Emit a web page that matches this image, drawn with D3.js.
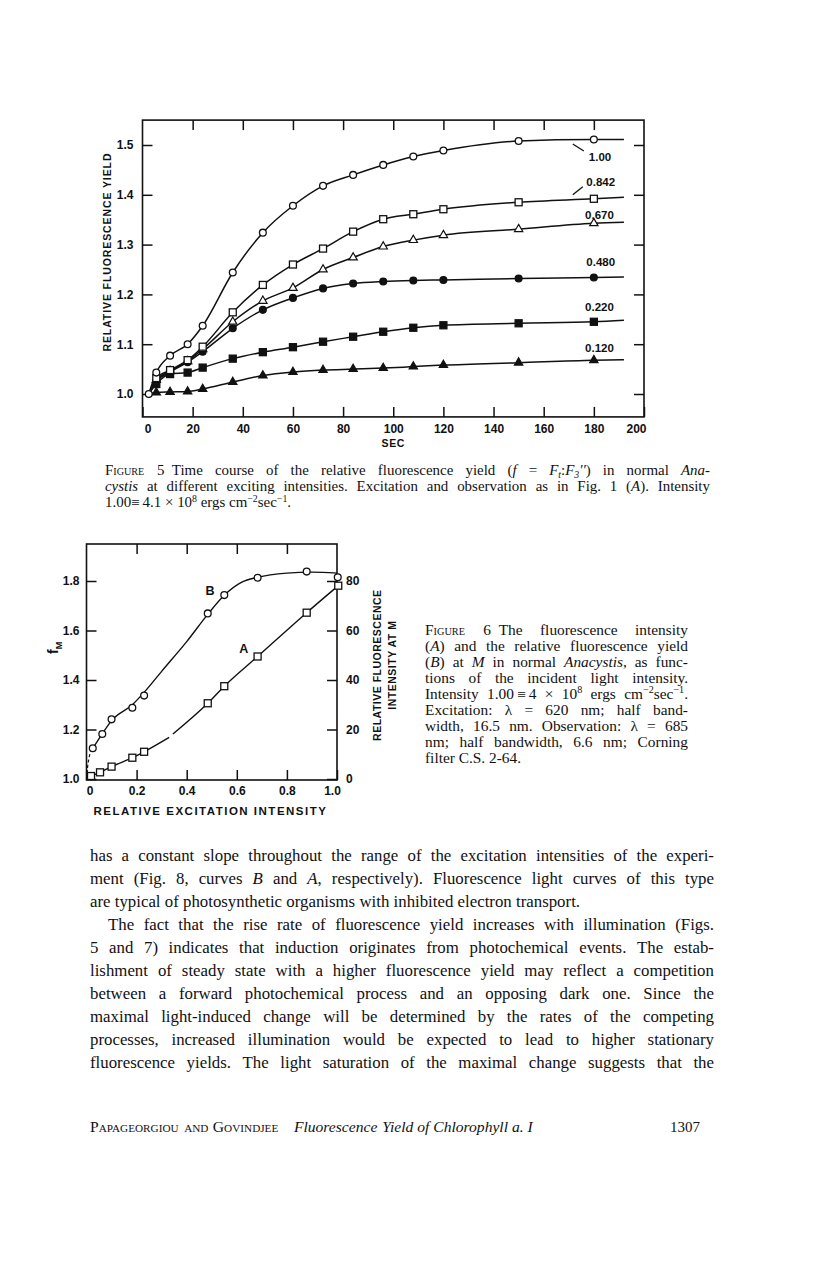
<!DOCTYPE html>
<html>
<head>
<meta charset="utf-8">
<script src="https://cdn.jsdelivr.net/npm/d3@7"></script>
<style>
  body { margin: 0; background: #fff; }
  svg { display: block; }
</style>
</head>
<body>
<script>
// ---- Figure 5 : relative fluorescence yield vs time, six intensities ----
const secT = [2.5, 5.5, 11, 18, 24, 36, 48, 60, 72, 84, 96, 108, 120, 150, 180];
const yield100 = [1.0, 1.043, 1.077, 1.100, 1.137, 1.244, 1.324, 1.378, 1.418, 1.440, 1.460, 1.477, 1.489, 1.508, 1.511];
const yield842 = [1.0, 1.032, 1.048, 1.068, 1.095, 1.164, 1.219, 1.260, 1.292, 1.326, 1.351, 1.361, 1.371, 1.385, 1.392];
const yield670 = [1.0, 1.028, 1.046, 1.066, 1.090, 1.145, 1.187, 1.213, 1.250, 1.274, 1.296, 1.309, 1.319, 1.331, 1.343];
const yield480 = [1.0, 1.025, 1.044, 1.064, 1.085, 1.132, 1.169, 1.193, 1.212, 1.222, 1.226, 1.228, 1.229, 1.232, 1.234];
const yield220 = [1.0, 1.020, 1.040, 1.043, 1.053, 1.071, 1.084, 1.094, 1.105, 1.115, 1.125, 1.133, 1.138, 1.142, 1.145];
const yield120 = [1.0, 1.003, 1.004, 1.005, 1.010, 1.024, 1.037, 1.044, 1.048, 1.050, 1.052, 1.055, 1.058, 1.063, 1.068];
const lineEndT = 192;
const lineEndYield = [1.511, 1.395, 1.345, 1.235, 1.148, 1.069];
const intensityLabels = ["1.00", "0.842", "0.670", "0.480", "0.220", "0.120"];
const markerShapes = ["circleOpen", "squareOpen", "triangleOpen", "circle", "square", "triangle"];
const secTicks = [0, 20, 40, 60, 80, 100, 120, 140, 160, 180, 200];
const yieldTicks = [1.0, 1.1, 1.2, 1.3, 1.4, 1.5];

// ---- Figure 6 : A = fluorescence intensity, B = yield, vs excitation ----
const bX = [0.025, 0.063, 0.10, 0.183, 0.23, 0.484, 0.55, 0.683, 0.879, 1.003];
const bYield = [1.124, 1.182, 1.241, 1.288, 1.337, 1.669, 1.743, 1.813, 1.838, 1.815];
const bCurveX = [0.02, 0.06, 0.10, 0.183, 0.23, 0.3, 0.4, 0.484, 0.55, 0.62, 0.683, 0.8, 0.9, 1.0];
const bCurveY = [1.115, 1.178, 1.236, 1.30, 1.35, 1.435, 1.555, 1.665, 1.742, 1.795, 1.815, 1.832, 1.836, 1.832];
const bDashX = [0, 0.004, 0.01, 0.02];
const bDashY = [1.0, 1.045, 1.085, 1.115];
const aX = [0.018, 0.054, 0.10, 0.183, 0.23, 0.484, 0.55, 0.683, 0.879, 1.005];
const aIntensity = [1.2, 2.7, 5.0, 8.6, 11.0, 30.6, 37.5, 49.5, 67.2, 78.1];
const aCurve1X = [0.018, 0.054, 0.10, 0.183, 0.23, 0.33];
const aCurve1Y = [1.2, 2.7, 5.0, 8.6, 11.0, 16.8];
const aCurve2X = [0.345, 0.484, 0.55, 0.683, 0.879, 1.005];
const aCurve2Y = [18.2, 30.6, 37.5, 49.5, 67.2, 78.1];
const excTicks = [0, 0.2, 0.4, 0.6, 0.8, 1.0];
const fmTicks = [1.0, 1.2, 1.4, 1.6, 1.8];
const intTicks = [0, 20, 40, 60, 80];

const W = 816, H = 1268;
const SANS = "'Liberation Sans', Arial, sans-serif";
const SERIF = "'Liberation Serif', 'Times New Roman', serif";
const INK = "#111";

const svg = d3.select("body").append("svg").attr("width", W).attr("height", H);
svg.append("rect").attr("width", W).attr("height", H).attr("fill", "#fff");

function styleAxis(g) {
  g.select(".domain").remove();
  g.selectAll(".tick line").attr("stroke", INK).attr("stroke-width", 1.5);
  g.selectAll(".tick text").attr("fill", INK).attr("font-family", SANS)
    .attr("font-weight", "bold").attr("font-size", 12);
}

function marker(g, shape, cx, cy) {
  const filled = !shape.endsWith("Open");
  const fill = filled ? INK : "#fff";
  if (shape.startsWith("circle")) {
    g.append("circle").attr("cx", cx).attr("cy", cy).attr("r", 3.4)
      .attr("fill", fill).attr("stroke", INK).attr("stroke-width", 1.3);
  } else if (shape.startsWith("square")) {
    g.append("rect").attr("x", cx - 3.5).attr("y", cy - 3.5).attr("width", 7).attr("height", 7)
      .attr("fill", fill).attr("stroke", INK).attr("stroke-width", 1.3);
  } else {
    g.append("path").attr("d", d3.symbol(d3.symbolTriangle, 30)())
      .attr("transform", `translate(${cx},${cy})`)
      .attr("fill", fill).attr("stroke", INK).attr("stroke-width", 1.2);
  }
}

// ================= FIGURE 5 =================
const x5 = d3.scaleLinear().domain([0, 200]).range([142.5, 644]);
const y5 = d3.scaleLinear().domain([1.0, 1.5]).range([394, 145]);
const y5lo = 0.954, y5hi = 1.55;
const g5 = svg.append("g");

g5.append("rect").attr("x", x5(0)).attr("y", y5(y5hi))
  .attr("width", x5(200) - x5(0)).attr("height", y5(y5lo) - y5(y5hi))
  .attr("fill", "none").attr("stroke", INK).attr("stroke-width", 1.6);

g5.append("g").attr("transform", `translate(0,${y5(y5lo)})`)
  .call(d3.axisBottom(x5).tickValues(secTicks).tickSize(-10).tickPadding(8).tickFormat(d3.format("d")))
  .call(styleAxis)
  .call(g => {
    g.selectAll(".tick text").filter(d => d === 0).attr("dx", 5);
    g.selectAll(".tick text").filter(d => d === 200).attr("dx", -8);
  });
g5.append("g").attr("transform", `translate(0,${y5(y5hi)})`)
  .call(d3.axisTop(x5).tickValues(secTicks.slice(1, -1)).tickSize(-10).tickFormat(""))
  .call(styleAxis);
g5.append("g").attr("transform", `translate(${x5(0)},0)`)
  .call(d3.axisLeft(y5).tickValues(yieldTicks).tickSize(-10).tickPadding(9).tickFormat(d3.format(".1f")))
  .call(styleAxis);
g5.append("g").attr("transform", `translate(${x5(200)},0)`)
  .call(d3.axisRight(y5).tickValues(yieldTicks).tickSize(-10).tickFormat(""))
  .call(styleAxis);

g5.append("text").attr("x", x5(100)).attr("y", 447).attr("text-anchor", "middle")
  .attr("font-family", SANS).attr("font-weight", "bold").attr("font-size", 10.5)
  .attr("letter-spacing", 0.6).attr("fill", INK).text("SEC");
g5.append("text").attr("transform", `translate(111,${y5(1.285)}) rotate(-90)`)
  .attr("text-anchor", "middle").attr("font-family", SANS).attr("font-weight", "bold")
  .attr("font-size", 10.5).attr("letter-spacing", 0.9).attr("fill", INK)
  .text("RELATIVE  FLUORESCENCE  YIELD");

const yieldSeries = [yield100, yield842, yield670, yield480, yield220, yield120];
const line5 = d3.line().x(d => x5(d[0])).y(d => y5(d[1])).curve(d3.curveMonotoneX);
yieldSeries.forEach((vals, si) => {
  const pts = secT.map((t, i) => [t, vals[i]]).concat([[lineEndT, lineEndYield[si]]]);
  g5.append("path").attr("d", line5(pts)).attr("fill", "none")
    .attr("stroke", INK).attr("stroke-width", 1.5);
});
// markers drawn from lowest to highest curve so open symbols sit on top
for (let si = yieldSeries.length - 1; si >= 0; si--) {
  secT.forEach((t, i) => {
    if (i === 0 && si !== 0) return;
    marker(g5, markerShapes[si], x5(t), y5(yieldSeries[si][i]));
  });
}

// curve labels (annotation positions in data units)
const labelAt = [[178, 1.476], [177, 1.426], [176.5, 1.36], [177, 1.265], [176.5, 1.175], [176.5, 1.092]];
intensityLabels.forEach((lab, i) => {
  g5.append("text").attr("x", x5(labelAt[i][0])).attr("y", y5(labelAt[i][1]) + 4)
    .attr("font-family", SANS).attr("font-weight", "bold").attr("font-size", 11.5)
    .attr("fill", INK).text(lab);
});
const leaders = [[[171.6, 1.502], [176, 1.488]], [[171.6, 1.40], [175.6, 1.416]]];
leaders.forEach(l => {
  g5.append("line").attr("x1", x5(l[0][0])).attr("y1", y5(l[0][1]))
    .attr("x2", x5(l[1][0])).attr("y2", y5(l[1][1])).attr("stroke", INK).attr("stroke-width", 1.3);
});

// ================= FIGURE 6 =================
const x6 = d3.scaleLinear().domain([0, 1]).range([86.5, 337]);
const yL6 = d3.scaleLinear().domain([1.0, 1.8]).range([779, 581]);
const yR6 = d3.scaleLinear().domain([0, 80]).range([779, 581]);
const top6 = 544, bot6 = 780;
const g6 = svg.append("g");

g6.append("rect").attr("x", x6(0)).attr("y", top6).attr("width", x6(1) - x6(0)).attr("height", bot6 - top6)
  .attr("fill", "none").attr("stroke", INK).attr("stroke-width", 1.6);

g6.append("g").attr("transform", `translate(0,${bot6})`)
  .call(d3.axisBottom(x6).tickValues(excTicks).tickSize(-10).tickPadding(6)
    .tickFormat(d => d === 0 ? "0" : d3.format(".1f")(d)))
  .call(styleAxis)
  .call(g => {
    g.selectAll(".tick text").filter(d => d === 0).attr("dx", 3);
    g.selectAll(".tick text").filter(d => d === 1).attr("dx", -5);
  });
g6.append("g").attr("transform", `translate(0,${top6})`)
  .call(d3.axisTop(x6).tickValues(excTicks.slice(1, -1)).tickSize(-10).tickFormat(""))
  .call(styleAxis);
g6.append("g").attr("transform", `translate(${x6(0)},0)`)
  .call(d3.axisLeft(yL6).tickValues(fmTicks).tickSize(-10).tickPadding(7).tickFormat(d3.format(".1f")))
  .call(styleAxis);
g6.append("g").attr("transform", `translate(${x6(1)},0)`)
  .call(d3.axisRight(yR6).tickValues(intTicks).tickSize(-10).tickPadding(9).tickFormat(d3.format("d")))
  .call(styleAxis);

g6.append("text").attr("x", x6(0.495)).attr("y", 815).attr("text-anchor", "middle")
  .attr("font-family", SANS).attr("font-weight", "bold").attr("font-size", 11.5)
  .attr("letter-spacing", 1.5).attr("fill", INK).text("RELATIVE  EXCITATION  INTENSITY");

const fm = g6.append("text").attr("transform", `translate(58,${yL6(1.53)}) rotate(-90)`)
  .attr("text-anchor", "middle").attr("font-family", SANS).attr("font-weight", "bold")
  .attr("font-size", 14).attr("fill", INK);
fm.append("tspan").text("f");
fm.append("tspan").attr("font-size", 9).attr("dy", 4).text("M");

[["RELATIVE FLUORESCENCE", 381], ["INTENSITY AT M", 396]].forEach(r => {
  g6.append("text").attr("transform", `translate(${r[1]},${yL6(1.46)}) rotate(-90)`)
    .attr("text-anchor", "middle").attr("font-family", SANS).attr("font-weight", "bold")
    .attr("font-size", 10.5).attr("letter-spacing", 0.5).attr("fill", INK).text(r[0]);
});

const lineL = d3.line().x(d => x6(d[0])).y(d => yL6(d[1])).curve(d3.curveMonotoneX);
const lineR = d3.line().x(d => x6(d[0])).y(d => yR6(d[1])).curve(d3.curveMonotoneX);
g6.append("path").attr("d", lineL(bCurveX.map((v, i) => [v, bCurveY[i]])))
  .attr("fill", "none").attr("stroke", INK).attr("stroke-width", 1.4);
g6.append("path").attr("d", lineL(bDashX.map((v, i) => [v, bDashY[i]])))
  .attr("fill", "none").attr("stroke", INK).attr("stroke-width", 1.2).attr("stroke-dasharray", "3,2.5");
g6.append("path").attr("d", lineR(aCurve1X.map((v, i) => [v, aCurve1Y[i]])))
  .attr("fill", "none").attr("stroke", INK).attr("stroke-width", 1.4);
g6.append("path").attr("d", lineR(aCurve2X.map((v, i) => [v, aCurve2Y[i]])))
  .attr("fill", "none").attr("stroke", INK).attr("stroke-width", 1.4);
bX.forEach((v, i) => marker(g6, "circleOpen", x6(v), yL6(bYield[i])));
aX.forEach((v, i) => marker(g6, "squareOpen", x6(v), yR6(aIntensity[i])));

g6.append("text").attr("x", x6(0.475)).attr("y", yL6(1.764) + 5).attr("font-family", SANS)
  .attr("font-weight", "bold").attr("font-size", 12.5).attr("fill", INK).text("B");
g6.append("text").attr("x", x6(0.61)).attr("y", yL6(1.529) + 5).attr("font-family", SANS)
  .attr("font-weight", "bold").attr("font-size", 12.5).attr("fill", INK).text("A");

// ================= TEXT =================
// markup: _italic_  ^sup^  ~sub~  {small caps}; styles carry across words
function parseLine(str) {
  const words = [];
  let it = false, sc = false, shift = 0, buf = "", runs = [];
  const flush = () => { if (buf) runs.push({ text: buf, it, sc, shift }); buf = ""; };
  for (const ch of str) {
    if (ch === " ") { flush(); if (runs.length) words.push(runs); runs = []; }
    else if (ch === "_") { flush(); it = !it; }
    else if (ch === "^") { flush(); shift = shift === 1 ? 0 : 1; }
    else if (ch === "~") { flush(); shift = shift === -1 ? 0 : -1; }
    else if (ch === "{") { flush(); sc = true; }
    else if (ch === "}") { flush(); sc = false; }
    else buf += ch;
  }
  flush();
  if (runs.length) words.push(runs);
  return words;
}

function drawWord(parent, runs, size, family) {
  const t = parent.append("text").attr("font-family", family).attr("font-size", size).attr("fill", INK);
  let cur = 0;
  runs.forEach(r => {
    const sp = t.append("tspan").text(r.text);
    if (r.it) sp.attr("font-style", "italic");
    if (r.sc) sp.style("font-variant", "small-caps");
    const target = r.shift === 1 ? -0.38 * size : r.shift === -1 ? 0.22 * size : 0;
    if (target !== cur) { sp.attr("dy", target - cur); cur = target; }
    if (r.shift !== 0) sp.attr("font-size", size * 0.66);
  });
  return t;
}

function setLine(parent, str, x0, x1, y, size, family, justify, sx) {
  sx = sx || 1;
  const words = parseLine(str);
  const nodes = words.map(w => drawWord(parent, w, size, family));
  const widths = nodes.map(n => n.node().getComputedTextLength() * sx);
  const sum = d3.sum(widths);
  const gap = justify && words.length > 1 ? (x1 - x0 - sum) / (words.length - 1) : size * 0.25 * sx;
  let x = x0;
  nodes.forEach((n, i) => {
    n.attr("transform", `translate(${x},${y}) scale(${sx},1)`);
    x += widths[i] + gap;
  });
}

const gt = svg.append("g");
const CAP = 14.5, CAPSX = 1.03;

const cap5 = [
  "{Figure} 5\u2002Time course of the relative fluorescence yield (_f_ = _F~t~_:_F~3~''_) in normal _Ana-_",
  "_cystis_ at different exciting intensities. Excitation and observation as in Fig. 1 (_A_). Intensity",
  "1.00\u2261\u20094.1 \u00d7 10^8^ ergs cm^\u22122^sec^\u22121^."
];
cap5.forEach((s, i) => setLine(gt, s, 105, 710, 475 + i * 16, CAP, SERIF, i < cap5.length - 1, CAPSX));

const cap6 = [
  "{Figure} 6\u2002The fluorescence intensity",
  "(_A_) and the relative fluorescence yield",
  "(_B_) at _M_ in normal _Anacystis_, as func-",
  "tions of the incident light intensity.",
  "Intensity 1.00\u2009\u2261\u20094 \u00d7 10^8^ ergs cm^\u22122^sec^\u22121^.",
  "Excitation: \u03bb = 620 nm; half band-",
  "width, 16.5 nm. Observation: \u03bb = 685",
  "nm; half bandwidth, 6.6 nm; Corning",
  "filter C.S. 2-64."
];
cap6.forEach((s, i) => setLine(gt, s, 425, 688, 635 + i * 16, CAP, SERIF, i < cap6.length - 1, 1.06));

const body = [
  ["has a constant slope throughout the range of the excitation intensities of the experi-", 90, true],
  ["ment (Fig. 8, curves _B_ and _A_, respectively). Fluorescence light curves of this type", 90, true],
  ["are typical of photosynthetic organisms with inhibited electron transport.", 90, false],
  ["The fact that the rise rate of fluorescence yield increases with illumination (Figs.", 108, true],
  ["5 and 7) indicates that induction originates from photochemical events. The estab-", 90, true],
  ["lishment of steady state with a higher fluorescence yield may reflect a competition", 90, true],
  ["between a forward photochemical process and an opposing dark one. Since the", 90, true],
  ["maximal light-induced change will be determined by the rates of the competing", 90, true],
  ["processes, increased illumination would be expected to lead to higher stationary", 90, true],
  ["fluorescence yields. The light saturation of the maximal change suggests that the", 90, true]
];
body.forEach((b, i) => setLine(gt, b[0], b[1], 714, 861 + i * 23.0, 16.5, SERIF, b[2], 1.02));

setLine(gt, "{Papageorgiou and Govindjee}\u2003_Fluorescence Yield of Chlorophyll a. I_", 90, 700, 1132, 15, SERIF, false, 1.04);
gt.append("text").attr("x", 700).attr("y", 1132).attr("text-anchor", "end")
  .attr("font-family", SERIF).attr("font-size", 15).attr("fill", INK).text("1307");
</script>
</body>
</html>
